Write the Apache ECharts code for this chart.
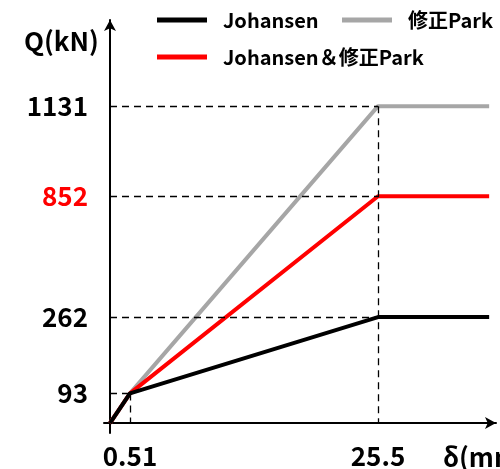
<!DOCTYPE html>
<html>
<head>
<meta charset="utf-8">
<script src="https://cdn.jsdelivr.net/npm/echarts@6/dist/echarts.min.js"></script>
<style>
html,body{margin:0;padding:0;background:#fff;}
#chart{width:500px;height:469px;}
</style>
</head>
<body>
<div id="chart"></div>
<script>
// ---- data ----
const seriesNames = ['Johansen', '修正Park', 'Johansen＆修正Park'];
const deltaPts = [0, 0.51, 25.5, 36.7];      // δ (mm)
const qJohansen = [0, 93, 262, 262];          // Q (kN)
const qPark = [0, 93, 1131, 1131];
const qCombined = [0, 93, 852, 852];
const deltaTicks = [0.51, 25.5];
const qTicks = [93, 262, 852, 1131];
const qTickRed = [852];

// ---- schematic (non-uniform) axis scale, layout only ----
const X_KNOTS = { v: [0, 0.51, 25.5], d: [0, 20, 268] };
const Y_KNOTS = { v: [0, 93, 262, 852, 1131], d: [0, 30, 107, 229, 320] };
function piecewise(k, val) {
  const v = k.v, d = k.d, n = v.length;
  let i = 0;
  while (i < n - 2 && val > v[i + 1]) i++;
  return d[i] + (val - v[i]) * (d[i + 1] - d[i]) / (v[i + 1] - v[i]);
}
const toX = v => piecewise(X_KNOTS, v);
const toY = v => piecewise(Y_KNOTS, v);
const key = v => Number(v).toFixed(2);
const xLabelMap = {}; deltaTicks.forEach(t => xLabelMap[key(toX(t))] = String(t));
const yLabelMap = {}; qTicks.forEach(t => yLabelMap[key(toY(t))] = String(t));

const FONT = '"Noto Sans CJK JP", "Noto Sans", sans-serif';

function mkSeries(name, qs, color, z) {
  return {
    name: name, type: 'line', z: z,
    data: deltaPts.map((d, i) => [toX(d), toY(qs[i])]),
    showSymbol: false, symbol: 'none',
    lineStyle: { color: color, width: 4 },
    itemStyle: { color: color },
    animation: false
  };
}

// guide lines derived from the data breakpoints (not origin, not plateau end)
const allQ = [qJohansen, qPark, qCombined];
const hSeen = {}, vMax = {};
allQ.forEach(qs => {
  for (let i = 1; i < deltaPts.length - 1; i++) {
    const d = deltaPts[i], q = qs[i];
    if (!(q in hSeen) || hSeen[q] < d) hSeen[q] = d;
    if (!(d in vMax) || vMax[d] < q) vMax[d] = q;
  }
});
const guideData = [];
Object.keys(hSeen).forEach(q => {
  guideData.push([{ coord: [0, toY(+q)] }, { coord: [toX(hSeen[q]), toY(+q)] }]);
});
Object.keys(vMax).forEach(d => {
  guideData.push([{ coord: [toX(+d), toY(vMax[d])] }, { coord: [toX(+d), 0] }]);
});

const legendText = { fontSize: 20, fontWeight: 'bold', color: '#000', fontFamily: FONT, padding: [0, 0, 0, 11] };
function mkLegend(name, left, top) {
  return { data: [name], left: left, top: top, padding: 0, itemWidth: 50, itemHeight: 5,
    icon: 'rect', textStyle: legendText };
}

const chart = echarts.init(document.getElementById('chart'), null, { renderer: 'canvas' });
chart.setOption({
  animation: false,
  textStyle: { fontFamily: FONT },
  grid: { left: 104, right: 4, top: 20, bottom: 32, containLabel: false },
  legend: [
    mkLegend(seriesNames[0], 157, 10),
    mkLegend(seriesNames[1], 342, 10),
    mkLegend(seriesNames[2], 157, 47)
  ],
  xAxis: {
    type: 'value', min: -6, max: 386,
    axisLine: { show: true, onZero: true, symbol: ['none', 'arrow'], symbolSize: [9, 11],
      lineStyle: { color: '#000', width: 2 } },
    axisTick: { show: false },
    splitLine: { show: false },
    axisLabel: {
      customValues: deltaTicks.map(toX),
      formatter: v => xLabelMap[key(v)] || '',
      fontSize: 26, fontWeight: 'bold', color: '#000', fontFamily: FONT, margin: 10
    }
  },
  yAxis: {
    type: 'value', min: -10, max: 407,
    axisLine: { show: true, onZero: true, symbol: ['none', 'arrow'], symbolSize: [9, 11],
      lineStyle: { color: '#000', width: 2 } },
    axisTick: { show: false },
    splitLine: { show: false },
    axisLabel: {
      customValues: qTicks.map(toY),
      formatter: v => yLabelMap[key(v)] || '',
      color: v => (qTickRed.map(t => key(toY(t))).indexOf(key(v)) >= 0 ? '#ff0000' : '#000'),
      fontSize: 26, fontWeight: 'bold', fontFamily: FONT, margin: 16
    }
  },
  graphic: [
    { type: 'text', x: 24, y: 41, z: 10,
      style: { text: 'Q(kN)', fill: '#000', font: 'bold 26px ' + FONT,
        textVerticalAlign: 'middle', verticalAlign: 'middle' } },
    { type: 'text', x: 443, y: 457, z: 10,
      style: { text: 'δ(mm)', fill: '#000', font: 'bold 26px ' + FONT,
        textVerticalAlign: 'middle', verticalAlign: 'middle' } }
  ],
  series: [
    {
      name: 'guides', type: 'line', data: [], z: 1, animation: false,
      markLine: {
        silent: true, symbol: ['none', 'none'], animation: false,
        label: { show: false },
        lineStyle: { color: '#000', width: 1.3, type: [7, 5] },
        data: guideData
      }
    },
    mkSeries(seriesNames[1], qPark, '#a6a6a6', 2),
    mkSeries(seriesNames[2], qCombined, '#ff0000', 3),
    mkSeries(seriesNames[0], qJohansen, '#000000', 4)
  ]
});
</script>
</body>
</html>
